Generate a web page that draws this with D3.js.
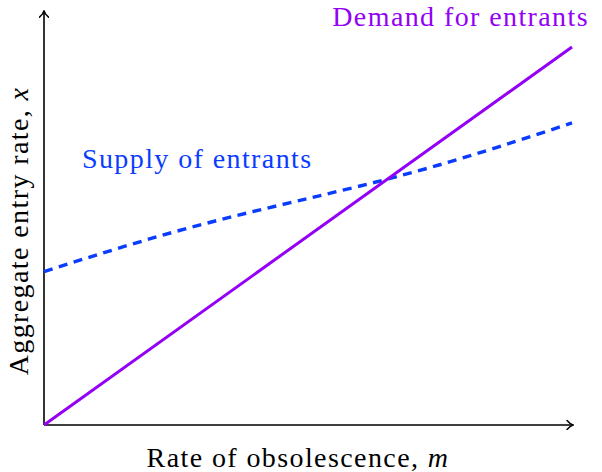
<!DOCTYPE html>
<html>
<head>
<meta charset="utf-8">
<script src="https://cdn.jsdelivr.net/npm/d3@7"></script>
<style>
  html, body { margin: 0; padding: 0; background: #fff; }
  svg { display: block; }
  text { font-family: "Liberation Serif", "DejaVu Serif", serif; letter-spacing: 1.4px; }
</style>
</head>
<body>
<div id="chart"></div>
<script>
// Values (x and y both run 0..1 on the plot).
const demandX = [0, 1];
const demandY = [0, 1];
const supplyX = [0, 0.242, 0.481, 0.731, 1];
const supplyY = [0.406, 0.509, 0.593, 0.681, 0.799];

const labels = {
  demand: "Demand for entrants",
  supply: "Supply of entrants",
  xAxis: "Rate of obsolescence, ",
  xVar: "m",
  yAxis: "Aggregate entry rate, ",
  yVar: "x"
};

const svgWidth = 602, svgHeight = 472;
const margin = { top: 47, right: 30, bottom: 47, left: 44 };
const chartWidth = svgWidth - margin.left - margin.right;
const chartHeight = svgHeight - margin.top - margin.bottom;

const purple = "#9400f5";
const blue = "#0a3cff";
const fontSize = "28px";

const svg = d3.select("#chart")
  .append("svg")
  .attr("width", svgWidth)
  .attr("height", svgHeight);

// arrow head like the tikz "to" tip
svg.append("defs").append("marker")
  .attr("id", "tip")
  .attr("viewBox", "-6 -5 8 10")
  .attr("refX", 1)
  .attr("refY", 0)
  .attr("markerWidth", 8)
  .attr("markerHeight", 10)
  .attr("markerUnits", "userSpaceOnUse")
  .attr("orient", "auto")
  .append("path")
  .attr("d", "M-5,-4.5 C-2.5,-1.5 0,-0.3 1,0 C0,0.3 -2.5,1.5 -5,4.5")
  .attr("fill", "none")
  .attr("stroke", "#000")
  .attr("stroke-width", 1.5)
  .attr("stroke-linecap", "round");

const chartGroup = svg.append("g")
  .attr("transform", `translate(${margin.left}, ${margin.top})`);

const xLinearScale = d3.scaleLinear().domain([0, 1]).range([0, chartWidth]);
const yLinearScale = d3.scaleLinear().domain([0, 1]).range([chartHeight, 0]);

// Axes (no ticks, just arrows).
chartGroup.append("line")
  .attr("x1", xLinearScale(0)).attr("y1", yLinearScale(0))
  .attr("x2", xLinearScale(1.002)).attr("y2", yLinearScale(0))
  .attr("stroke", "#000").attr("stroke-width", 1.6)
  .attr("marker-end", "url(#tip)");

chartGroup.append("line")
  .attr("x1", xLinearScale(0)).attr("y1", yLinearScale(0))
  .attr("x2", xLinearScale(0)).attr("y2", yLinearScale(1.095))
  .attr("stroke", "#000").attr("stroke-width", 1.6)
  .attr("marker-end", "url(#tip)");

const line = d3.line()
  .x(d => xLinearScale(d[0]))
  .y(d => yLinearScale(d[1]));

// Supply curve, dashed blue.
chartGroup.append("path")
  .datum(d3.zip(supplyX, supplyY))
  .attr("d", line.curve(d3.curveNatural))
  .attr("fill", "none")
  .attr("stroke", blue)
  .attr("stroke-width", 3.4)
  .attr("stroke-dasharray", "9 6.5");

// Demand line, solid purple.
chartGroup.append("path")
  .datum(d3.zip(demandX, demandY))
  .attr("d", line.curve(d3.curveLinear))
  .attr("fill", "none")
  .attr("stroke", purple)
  .attr("stroke-width", 3);

// Curve labels.
svg.append("text")
  .attr("x", 589).attr("y", 26)
  .attr("text-anchor", "end")
  .attr("font-size", fontSize)
  .attr("fill", purple)
  .text(labels.demand);

svg.append("text")
  .attr("x", 82).attr("y", 168)
  .attr("font-size", fontSize)
  .attr("fill", blue)
  .text(labels.supply);

// Axis titles.
const xTitle = svg.append("text")
  .attr("x", 298).attr("y", 467)
  .attr("text-anchor", "middle")
  .attr("font-size", fontSize)
  .attr("fill", "#000");
xTitle.append("tspan").text(labels.xAxis);
xTitle.append("tspan").attr("font-style", "italic").text(labels.xVar);

const yTitle = svg.append("text")
  .attr("transform", "translate(28, 231) rotate(-90)")
  .attr("text-anchor", "middle")
  .attr("font-size", fontSize)
  .attr("fill", "#000");
yTitle.append("tspan").text(labels.yAxis);
yTitle.append("tspan").attr("font-style", "italic").text(labels.yVar);
</script>
</body>
</html>
